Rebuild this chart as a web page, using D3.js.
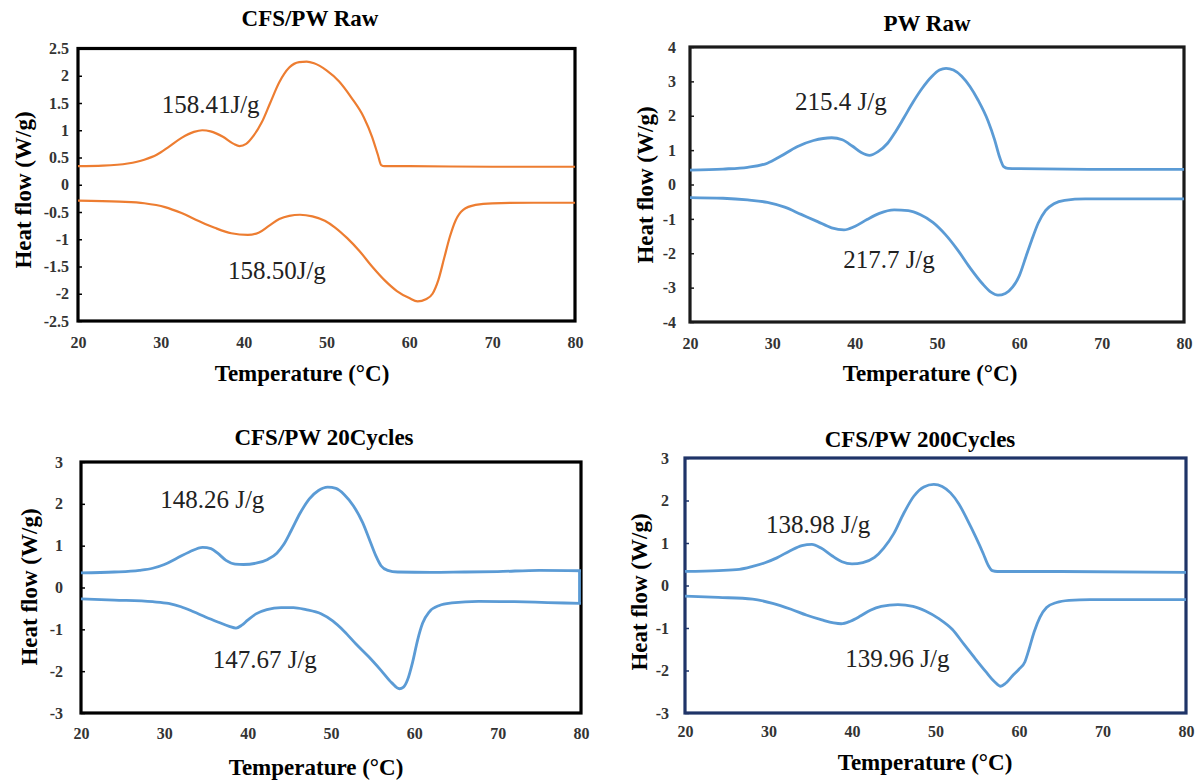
<!DOCTYPE html>
<html>
<head>
  <meta charset="utf-8">
  <style type="text/css">
    body { margin: 0; background: #fff; }
    svg { display: block; }
    svg text { font-family: "Liberation Serif", "Times New Roman", serif !important; }
    .tick text { font-size: 16px; font-weight: bold; fill: #333; }
    .ttl { font-size: 23px; font-weight: bold; fill: #000; }
    .axt { font-size: 23px; font-weight: bold; fill: #000; }
    .note { font-size: 25px; fill: #222; }
  </style>
</head>
<body>
<svg width="1200" height="781"></svg>
<script src="https://d3js.org/d3.v7.min.js"></script>
<script>
  // temperature ticks shared by all four panels
  var xTicks = [20, 30, 40, 50, 60, 70, 80];

  // y tick values per panel
  var p1YTicks = [2.5, 2, 1.5, 1, 0.5, 0, -0.5, -1, -1.5, -2, -2.5];
  var p2YTicks = [4, 3, 2, 1, 0, -1, -2, -3, -4];
  var p34YTicks = [3, 2, 1, 0, -1, -2, -3];

  // CFS/PW Raw  [temperature, heat flow]
  var p1Upper = [[20,0.34],[23,0.35],[26,0.39],[28,0.46],[29.5,0.55],[31,0.7],[32.5,0.86],[34,0.97],[35,1.0],[36,0.98],
    [37.5,0.88],[38.8,0.75],[39.5,0.71],[40.3,0.75],[41.2,0.9],[42.2,1.15],[43.2,1.5],[44.3,1.88],[45.5,2.15],[46.7,2.25],
    [47.6,2.26],[48.5,2.23],[50,2.1],[51.5,1.9],[53,1.6],[54.5,1.24],[55.5,0.88],[56.2,0.55],[56.6,0.36],[57,0.34],
    [60,0.34],[70,0.33],[80,0.33]];
  var p1Lower = [[20,-0.29],[25,-0.31],[28,-0.34],[30.5,-0.41],[32.5,-0.52],[34.5,-0.66],[36.5,-0.79],[38.5,-0.89],[40.5,-0.92],
    [41.8,-0.88],[43,-0.76],[44.3,-0.63],[45.5,-0.57],[46.8,-0.55],[48.3,-0.58],[49.8,-0.66],[51,-0.78],[52.5,-0.98],
    [54,-1.22],[55.5,-1.5],[57,-1.75],[58.5,-1.95],[60,-2.08],[61,-2.14],[62,-2.1],[62.8,-2.0],[63.5,-1.75],[64.2,-1.35],
    [64.9,-0.95],[65.6,-0.65],[66.5,-0.46],[68,-0.37],[70,-0.34],[75,-0.33],[80,-0.33]];

  // PW Raw
  var p2Upper = [[20,0.42],[24,0.45],[27,0.5],[29.4,0.62],[31,0.82],[33,1.1],[35,1.28],[37.2,1.36],[38.5,1.3],[39.7,1.12],
    [40.8,0.93],[41.8,0.85],[42.8,0.95],[44,1.2],[45,1.55],[46,1.95],[47.1,2.4],[48.2,2.8],[49.4,3.15],[50.3,3.33],
    [51.1,3.38],[52,3.33],[53,3.15],[54,2.85],[55,2.45],[56.2,1.85],[57,1.3],[57.6,0.8],[58.1,0.52],[58.6,0.47],
    [60,0.46],[70,0.44],[80,0.44]];
  var p2Lower = [[20,-0.38],[24,-0.4],[27,-0.45],[29.4,-0.52],[31.5,-0.66],[33.5,-0.87],[35.5,-1.08],[37.2,-1.26],[38.7,-1.32],
    [40,-1.22],[41.5,-1.02],[43,-0.84],[44.8,-0.74],[46.5,-0.76],[48,-0.88],[49.5,-1.1],[51,-1.45],[52.5,-1.9],[54,-2.42],
    [55.5,-2.88],[56.6,-3.14],[57.4,-3.22],[58.3,-3.17],[59.2,-2.98],[60,-2.65],[60.8,-2.1],[61.5,-1.62],[62.3,-1.12],
    [63.2,-0.75],[64.2,-0.56],[65.5,-0.46],[68,-0.42],[80,-0.42]];

  // CFS/PW 20 cycles
  var p3Upper = [[20,0.35],[24,0.37],[27,0.41],[28.6,0.46],[30,0.55],[31.5,0.7],[33,0.85],[34.6,0.96],[35.6,0.93],[36.4,0.82],
    [37.4,0.65],[38.5,0.56],[39.5,0.55],[41,0.58],[42.4,0.67],[43.5,0.82],[44.3,1.02],[45.2,1.35],[46.3,1.78],[47.4,2.12],
    [48.5,2.32],[49.6,2.4],[50.6,2.37],[51.6,2.22],[52.7,1.95],[53.8,1.55],[54.7,1.1],[55.4,0.75],[56,0.52],[56.8,0.41],
    [58,0.37],[62,0.36],[66,0.37],[70,0.38],[75,0.41],[80,0.4]];
  var p3Lower = [[20,-0.27],[24,-0.3],[28.6,-0.34],[30.5,-0.38],[32,-0.46],[33.5,-0.58],[35,-0.71],[36.5,-0.83],[37.8,-0.93],
    [38.6,-0.97],[39.3,-0.9],[40,-0.78],[41,-0.63],[42.3,-0.53],[44,-0.48],[45.5,-0.48],[47,-0.53],[48.8,-0.63],[50.2,-0.8],
    [51.6,-1.05],[53,-1.35],[54.5,-1.65],[56,-1.98],[57.3,-2.28],[58.2,-2.42],[58.7,-2.38],[59.2,-2.2],[59.8,-1.78],
    [60.4,-1.25],[61,-0.85],[61.8,-0.58],[63,-0.43],[64.5,-0.37],[67.7,-0.33],[72,-0.34],[76,-0.36],[80,-0.38]];
  var p3Join = [[80,0.4],[80,-0.38]];

  // CFS/PW 200 cycles
  var p4Upper = [[20,0.33],[24,0.35],[26.5,0.38],[28.1,0.45],[29.5,0.53],[31,0.65],[32.6,0.82],[34,0.94],[35.2,0.97],[36.3,0.88],
    [37.6,0.7],[38.8,0.56],[40,0.51],[41.3,0.54],[42.7,0.66],[43.8,0.88],[45,1.22],[46.2,1.7],[47.4,2.1],[48.6,2.32],
    [49.8,2.38],[50.8,2.33],[51.8,2.18],[52.8,1.92],[53.8,1.55],[54.8,1.15],[55.7,0.76],[56.3,0.48],[56.8,0.35],[57.4,0.33],
    [65,0.33],[80,0.31]];
  var p4Lower = [[20,-0.25],[24,-0.28],[28.1,-0.32],[30.5,-0.42],[32.7,-0.56],[34.6,-0.7],[36.4,-0.81],[37.8,-0.88],[38.7,-0.9],
    [39.8,-0.84],[41,-0.72],[42.2,-0.58],[43.5,-0.49],[45.5,-0.45],[47.3,-0.49],[48.8,-0.6],[50.4,-0.78],[52,-1.03],
    [53.4,-1.38],[54.8,-1.73],[56,-2.02],[57.1,-2.27],[57.8,-2.37],[58.4,-2.3],[59.2,-2.13],[60,-1.97],[60.7,-1.8],
    [61.2,-1.5],[61.8,-1.1],[62.5,-0.75],[63.3,-0.52],[64.5,-0.4],[66,-0.35],[68.5,-0.33],[80,-0.33]];

  // enthalpy labels: [text, temperature, heat flow]
  var p1Notes = [["158.41J/g", 30.1, 1.32], ["158.50J/g", 38.1, -1.73]];
  var p2Notes = [["215.4 J/g", 32.75, 2.17], ["217.7 J/g", 38.6, -2.43]];
  var p3Notes = [["148.26 J/g", 29.5, 1.9], ["147.67 J/g", 35.8, -1.92]];
  var p4Notes = [["138.98 J/g", 29.7, 1.24], ["139.96 J/g", 39.2, -1.92]];

  var serif = "'Liberation Serif', 'Times New Roman', serif";
  var orange = "#ed7d31", blue = "#5b9bd5";

  var panels = [
    { title: "CFS/PW Raw", x0: 78, x1: 575, y0: 48.5, y1: 321, yDom: [-2.5, 2.5], yTicks: p1YTicks,
      series: [p1Upper, p1Lower], notes: p1Notes, color: orange, lw: 2.2, frame: "#000", yPad: 9, xPad: 16,
      tx: 310, ty: 26, hx: 23, hy: 190, ax: 302, ay: 381 },
    { title: "PW Raw", x0: 690, x1: 1184, y0: 47, y1: 322, yDom: [-4, 4], yTicks: p2YTicks,
      series: [p2Upper, p2Lower], notes: p2Notes, color: blue, lw: 2.8, frame: "#1a1a1a", yPad: 14, xPad: 16,
      tx: 927, ty: 31, hx: 645, hy: 185, ax: 930, ay: 381 },
    { title: "CFS/PW 20Cycles", x0: 81, x1: 581, y0: 462, y1: 713, yDom: [-3, 3], yTicks: p34YTicks,
      series: [p3Upper, p3Lower, p3Join], notes: p3Notes, color: blue, lw: 2.8, frame: "#000", yPad: 18, xPad: 15,
      tx: 324, ty: 445, hx: 29, hy: 587, ax: 316, ay: 775 },
    { title: "CFS/PW 200Cycles", x0: 685, x1: 1186, y0: 458, y1: 713, yDom: [-3, 3], yTicks: p34YTicks,
      series: [p4Upper, p4Lower], notes: p4Notes, color: blue, lw: 2.8, frame: "#1f3468", yPad: 16, xPad: 13,
      tx: 920, ty: 447, hx: 639, hy: 592, ax: 925, ay: 770 }
  ];

  var svg = d3.select("svg");

  panels.forEach(function(p) {
    var x = d3.scaleLinear().domain([20, 80]).range([p.x0, p.x1]);
    var y = d3.scaleLinear().domain(p.yDom).range([p.y1, p.y0]);
    var g = svg.append("g");

    g.append("g")
        .attr("transform", "translate(" + p.x0 + ",0)")
        .call(d3.axisLeft(y).tickValues(p.yTicks).tickSize(-4).tickPadding(p.yPad)
          .tickFormat(function(d) { return String(d); }))
        .attr("font-family", serif)
        .call(function(a) { a.select(".domain").remove(); })
        .call(function(a) { a.selectAll(".tick line").attr("stroke", p.frame).attr("stroke-width", 1.5); });

    g.append("g")
        .attr("transform", "translate(0," + p.y1 + ")")
        .call(d3.axisBottom(x).tickValues(xTicks).tickSize(0).tickPadding(p.xPad))
        .attr("font-family", serif)
        .call(function(a) { a.select(".domain").remove(); });

    g.append("rect")
        .attr("x", p.x0).attr("y", p.y0)
        .attr("width", p.x1 - p.x0).attr("height", p.y1 - p.y0)
        .attr("fill", "none").attr("stroke", p.frame).attr("stroke-width", 3.2);

    var line = d3.line()
        .x(function(d) { return x(d[0]); })
        .y(function(d) { return y(d[1]); })
        .curve(d3.curveMonotoneX);

    g.selectAll("path.curve")
      .data(p.series)
      .enter().append("path")
        .attr("class", "curve")
        .attr("d", function(d) { return d[0][0] === d[1][0] ? d3.line().x(function(e) { return x(e[0]) - 1.5; }).y(function(e) { return y(e[1]); })(d) : line(d); })
        .attr("fill", "none")
        .attr("stroke", p.color)
        .attr("stroke-width", p.lw)
        .attr("stroke-linejoin", "round");

    g.selectAll("text.note")
      .data(p.notes)
      .enter().append("text")
        .attr("class", "note")
        .attr("font-family", serif)
        .attr("x", function(d) { return x(d[1]); })
        .attr("y", function(d) { return y(d[2]); })
        .text(function(d) { return d[0]; });

    g.append("text").attr("class", "ttl").attr("font-family", serif)
        .attr("x", p.tx).attr("y", p.ty).attr("text-anchor", "middle")
        .text(p.title);

    g.append("text").attr("class", "axt").attr("font-family", serif)
        .attr("transform", "translate(" + p.hx + "," + p.hy + ") rotate(-90)")
        .attr("text-anchor", "middle").attr("dy", "0.35em")
        .text("Heat flow (W/g)");

    g.append("text").attr("class", "axt").attr("font-family", serif)
        .attr("x", p.ax).attr("y", p.ay).attr("text-anchor", "middle")
        .text("Temperature (°C)");
  });
</script>
</body>
</html>
